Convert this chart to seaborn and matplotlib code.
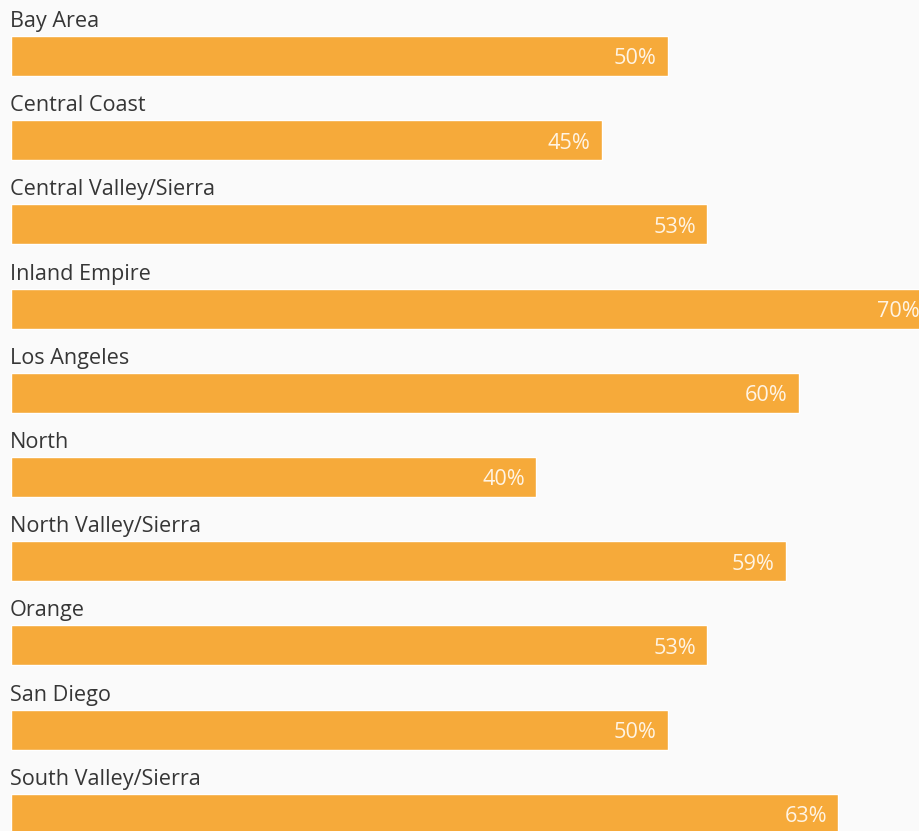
import matplotlib
matplotlib.use("Agg")
import matplotlib.pyplot as plt
import seaborn as sns
import pandas as pd

categories = ["Bay Area", "Central Coast", "Central Valley/Sierra", "Inland Empire",
              "Los Angeles", "North", "North Valley/Sierra", "Orange", "San Diego",
              "South Valley/Sierra"]
values = [50, 45, 53, 70, 60, 40, 59, 53, 50, 63]
value_labels = ["50%", "45%", "53%", "70%", "60%", "40%", "59%", "53%", "50%", "63%"]

sns.set_style("white")
plt.rcParams['font.family'] = ['Open Sans', 'DejaVu Sans']

df = pd.DataFrame({"region": categories, "pct": values})

bg = "#FAFAFA"
fig = plt.figure(figsize=(9.19, 8.31), dpi=100, facecolor=bg)
ax = fig.add_axes([0, 0, 1, 1])
ax.set_facecolor(bg)

px_per_unit = 13.14
bar_h = 40 / 84.2
sns.barplot(data=df, y="region", x="pct", orient="h", color="#F6AA3A",
            saturation=1, width=bar_h, ax=ax)

ax.set_xlim(-10.5 / px_per_unit, (919 - 10.5) / px_per_unit)
ax.set_ylim((831 - 56) / 84.2, -56 / 84.2)

for i, (cat, v, lab) in enumerate(zip(categories, values, value_labels)):
    ax.text(-0.5 / px_per_unit, i - bar_h / 2 - 9 / 84.2, cat, ha="left", va="baseline",
            fontsize=15.6, color="#363636")
    ax.text(v - 11 / px_per_unit, i + 0.035, lab, ha="right", va="center",
            fontsize=15.6, color="#FFF4E4")

ax.set_xlabel("")
ax.set_ylabel("")
ax.set_xticks([])
ax.set_yticks([])
for s in ax.spines.values():
    s.set_visible(False)

fig.savefig("out.png", dpi=100, facecolor=bg)
